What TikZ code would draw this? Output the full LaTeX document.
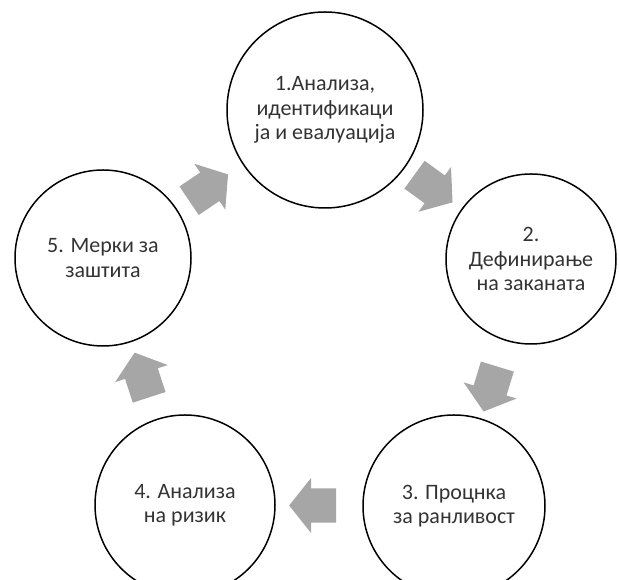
\documentclass[tikz,border=0pt]{standalone}
\usepackage{fontspec}
\setmainfont{Carlito}
\usetikzlibrary{shapes.arrows,calc}

\definecolor{arrowgray}{HTML}{A6A6A6}
\definecolor{textgray}{HTML}{333333}

\tikzset{stage/.style={
    	circle, draw=black, line width=1.5pt, inner sep=0pt,
    	align=center, text=textgray, font=\fontsize{22}{24.5}\selectfont
  	},
  	cyclearrow/.style={
    	single arrow, fill=arrowgray, draw=none,
    	inner xsep=0pt, inner ysep=17pt, minimum height=47pt,
    	single arrow head extend=10.5pt, single arrow tip angle=103,
    	rotate=#1
  	}
}

\begin{document}
\begin{tikzpicture}[x=1pt, y=1pt]
	\useasboundingbox (0,0) rectangle (619,580);
	\node[stage, minimum size=196pt] (s1) at (325,470) {1.Анализа,\\идентификаци\\ја и евалуација};
	\node[stage, minimum size=170pt] (s2) at (531,321) {2.\\Дефинирање\\на заканата};
	\node[stage, minimum size=182pt] (s3) at (454,74) {3. Процнка\\за ранливост};
	\node[stage, minimum size=180pt] (s4) at (185,75) {4. Анализа\\на ризик};
	\node[stage, minimum size=176pt] (s5) at (103,322) {5. Мерки за\\заштита};
	% arrows between the stages
	\node[cyclearrow=-36] (a12) at ($(s1)!0.5!(s2)$) {};
	\node[cyclearrow=-107] (a23) at ($(s2)!0.5!(s3)$) {};
	\node[cyclearrow=180] (a34) at ($(s3)!0.5!(s4)$) {};
	\node[cyclearrow=108] (a45) at ($(s4)!0.5!(s5)$) {};
	\node[cyclearrow=34] (a51) at ($(s5)!0.45!(s1)$) {};
\end{tikzpicture}
\end{document}
